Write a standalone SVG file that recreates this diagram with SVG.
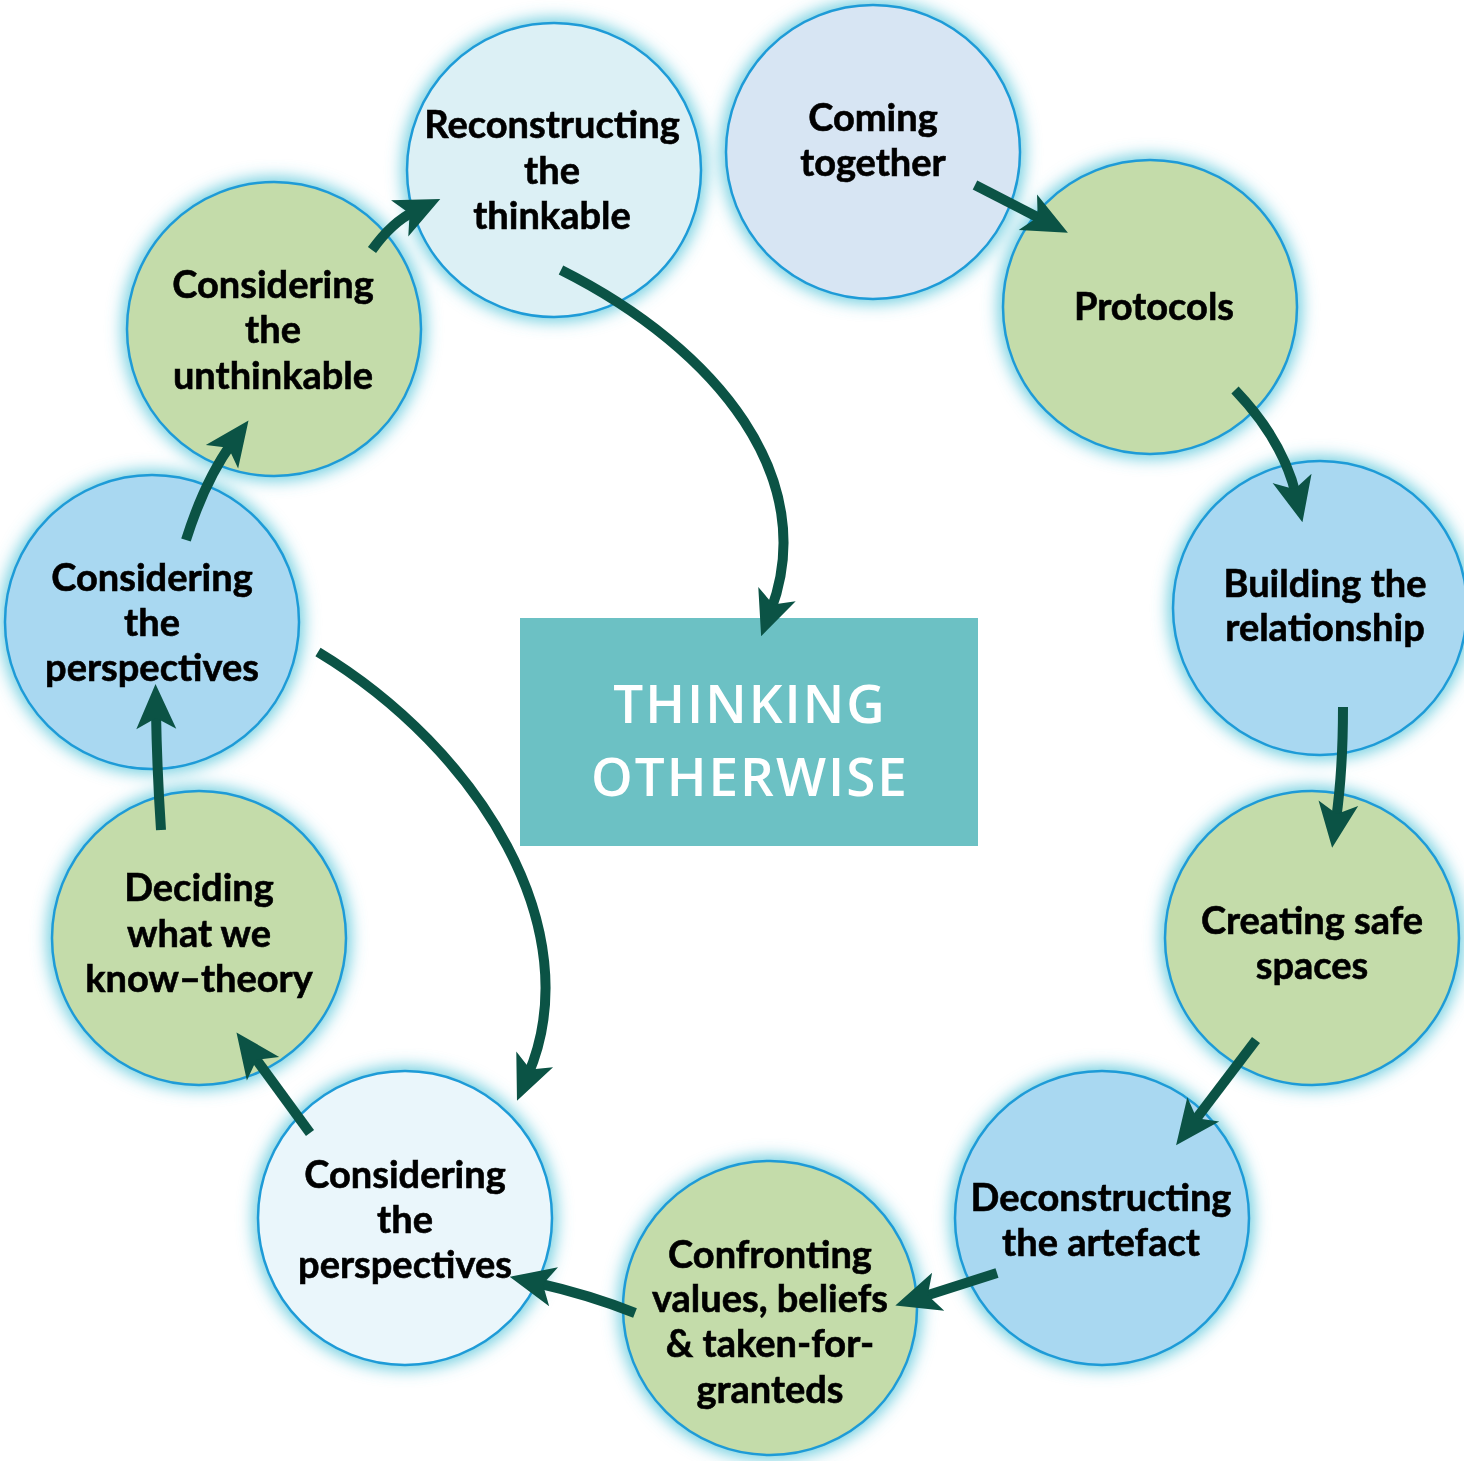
<svg xmlns="http://www.w3.org/2000/svg" width="1464" height="1461" viewBox="0 0 1464 1461">
<style>
.node{stroke:#1e9bd7;stroke-width:2.5}
.green{fill:#c4dcaa}
.blue{fill:#a9d8f1}
.halo{fill:#4fc3d8;opacity:0.8}
.lbl{font-family:Lato,"Liberation Sans",sans-serif;font-weight:700;font-size:38px;fill:#000;stroke:#000;stroke-width:0.6;text-anchor:middle}
.title{font-family:"Open Sans","Liberation Sans",sans-serif;font-weight:600;font-size:53px;fill:#fff;text-anchor:middle;letter-spacing:2px}
.conn{fill:none;stroke:#0b5345;stroke-width:10;stroke-linecap:butt}
</style>
<defs>
<filter id="glow" x="-20%" y="-20%" width="140%" height="140%">
<feGaussianBlur stdDeviation="8"/>
</filter>
<marker id="ah" markerUnits="userSpaceOnUse" markerWidth="80" markerHeight="80" refX="0" refY="0" viewBox="-40 -40 80 80" orient="auto" overflow="visible">
<path d="M28,0 L-17,-20 L-6,0 L-17,20 Z" fill="#0b5345"/>
</marker>
</defs>
<rect width="1464" height="1461" fill="#fff"/>
<g id="halos" filter="url(#glow)">
<circle class="halo" cx="873" cy="152" r="152"/>
<circle class="halo" cx="554" cy="170" r="152"/>
<circle class="halo" cx="1150" cy="307" r="152"/>
<circle class="halo" cx="274" cy="329" r="152"/>
<circle class="halo" cx="1320" cy="608" r="152"/>
<circle class="halo" cx="152" cy="622" r="152"/>
<circle class="halo" cx="1312" cy="938" r="152"/>
<circle class="halo" cx="199" cy="938" r="152"/>
<circle class="halo" cx="1102" cy="1218" r="152"/>
<circle class="halo" cx="405" cy="1218" r="152"/>
<circle class="halo" cx="770" cy="1308" r="152"/>
</g>
<g id="node-coming-together">
<circle class="node" cx="873" cy="152" r="147" fill="#d7e5f3"/>
<text class="lbl" x="873" y="131">Coming</text>
<text class="lbl" x="873" y="176">together</text>
</g>
<g id="node-reconstructing">
<circle class="node" cx="554" cy="170" r="147" fill="#dcf0f5"/>
<text class="lbl" x="552" y="138">Reconstructing</text>
<text class="lbl" x="552" y="184">the</text>
<text class="lbl" x="552" y="229">thinkable</text>
</g>
<g id="node-protocols">
<circle class="node green" cx="1150" cy="307" r="147"/>
<text class="lbl" x="1154" y="320">Protocols</text>
</g>
<g id="node-unthinkable">
<circle class="node green" cx="274" cy="329" r="147"/>
<text class="lbl" x="273" y="298">Considering</text>
<text class="lbl" x="273" y="343">the</text>
<text class="lbl" x="273" y="389">unthinkable</text>
</g>
<g id="node-building">
<circle class="node blue" cx="1320" cy="608" r="147"/>
<text class="lbl" x="1325" y="597">Building the</text>
<text class="lbl" x="1325" y="641">relationship</text>
</g>
<g id="node-perspectives-left">
<circle class="node blue" cx="152" cy="622" r="147"/>
<text class="lbl" x="152" y="591">Considering</text>
<text class="lbl" x="152" y="636">the</text>
<text class="lbl" x="152" y="681">perspectives</text>
</g>
<g id="node-safe-spaces">
<circle class="node green" cx="1312" cy="938" r="147"/>
<text class="lbl" x="1312" y="934">Creating safe</text>
<text class="lbl" x="1312" y="979">spaces</text>
</g>
<g id="node-deciding">
<circle class="node green" cx="199" cy="938" r="147"/>
<text class="lbl" x="199" y="901">Deciding</text>
<text class="lbl" x="199" y="947">what we</text>
<text class="lbl" x="199" y="992">know–theory</text>
</g>
<g id="node-deconstructing">
<circle class="node blue" cx="1102" cy="1218" r="147"/>
<text class="lbl" x="1101" y="1211">Deconstructing</text>
<text class="lbl" x="1101" y="1256">the artefact</text>
</g>
<g id="node-perspectives-bottom">
<circle class="node" cx="405" cy="1218" r="147" fill="#eaf6fb"/>
<text class="lbl" x="405" y="1188">Considering</text>
<text class="lbl" x="405" y="1233">the</text>
<text class="lbl" x="405" y="1278">perspectives</text>
</g>
<g id="node-confronting">
<circle class="node green" cx="770" cy="1308" r="147"/>
<text class="lbl" x="770" y="1268">Confronting</text>
<text class="lbl" x="770" y="1312">values, beliefs</text>
<text class="lbl" x="770" y="1357">&amp; taken-for-</text>
<text class="lbl" x="770" y="1403">granteds</text>
</g>
<g id="node-thinking-otherwise">
<rect x="520" y="618" width="458" height="228" fill="#6cc1c4"/>
<text class="title" x="750" y="723">THINKING</text>
<text class="title" x="750" y="796">OTHERWISE</text>
</g>
<g id="connectors">
<path class="conn" marker-end="url(#ah)" d="M975,185 L1043,220"/>
<path class="conn" marker-end="url(#ah)" d="M1235,390 Q1283,440 1296,495"/>
<path class="conn" marker-end="url(#ah)" d="M1343,707 Q1343,770 1336,820"/>
<path class="conn" marker-end="url(#ah)" d="M1256,1040 L1193,1123"/>
<path class="conn" marker-end="url(#ah)" d="M997,1273 L922,1297"/>
<path class="conn" marker-end="url(#ah)" d="M635,1313 Q590,1295 537,1283"/>
<path class="conn" marker-end="url(#ah)" d="M310,1133 L253,1055"/>
<path class="conn" marker-end="url(#ah)" d="M161,830 Q157,770 156,712"/>
<path class="conn" marker-end="url(#ah)" d="M186,540 Q205,480 232,443"/>
<path class="conn" marker-end="url(#ah)" d="M372,250 Q392,222 415,211"/>
<path class="conn" marker-end="url(#ah)" d="M561,270 C720,350 820,480 771,610"/>
<path class="conn" marker-end="url(#ah)" d="M318,652 C480,750 590,930 528,1075"/>
</g>
</svg>
